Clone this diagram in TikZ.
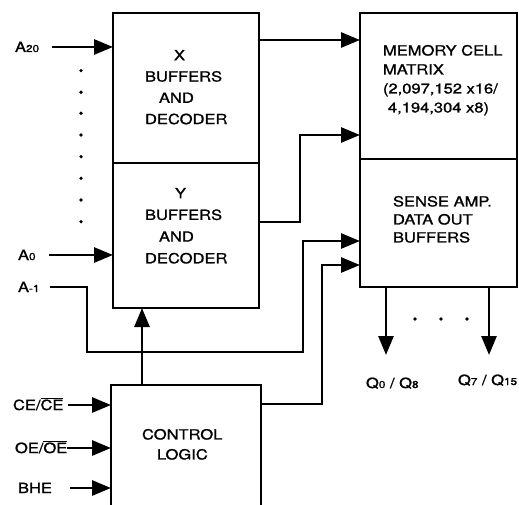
\documentclass[tikz,border=0pt]{standalone}
\usepackage{fontspec}
\setmainfont{TeX Gyre Heros}[FakeStretch=1.18,FakeBold=1.3]
\usetikzlibrary{arrows.meta}
\newcommand{\sm}[1]{{\fontsize{10}{10}\selectfont #1}}
\begin{document}
\begin{tikzpicture}[x=1pt,y=-1pt,
  line width=2.8pt,
  every node/.style={font=\fontsize{14}{21}\selectfont, inner sep=0pt, outer sep=0pt},
  box/.style={draw, rectangle, anchor=north west, line width=2.8pt},
  txt/.style={align=left, anchor=north west},
  lbl/.style={anchor=base west},
  arr/.style={line width=2.8pt, -{Triangle[length=19pt,width=15pt]}},
]
\useasboundingbox (0,0) rectangle (519,505);
% boxes
\node[box, minimum width=146pt, minimum height=150pt] (xdec) at (113,13) {};
\node[box, minimum width=146pt, minimum height=145pt] (ydec) at (113,163) {};
\node[box, minimum width=157pt, minimum height=146pt] (mem) at (360,13) {};
\node[box, minimum width=157pt, minimum height=128pt] (sense) at (360,159) {};
\node[anchor=north west, minimum width=150pt, minimum height=125pt] (ctrl) at (111,385) {};
\draw (ctrl.south west) -- (ctrl.north west) -- (ctrl.north east) -- (ctrl.south east);
% box texts
\node[txt, font=\fontsize{14}{21.3}\selectfont] (xtxt) at (145,50) {\hspace*{29pt}X\\BUFFERS\\\hspace*{14pt}AND\\DECODER};
\node[txt, font=\fontsize{14}{21.7}\selectfont] (ytxt) at (145,188) {\hspace*{30pt}Y\\BUFFERS\\\hspace*{14pt}AND\\DECODER};
\node[txt, font=\fontsize{14}{19}\selectfont] (memtxt) at (383,45) {MEMORY CELL\\MATRIX\\(2,097,152 x16/\\\hspace*{5pt}4,194,304 x8)};
\node[txt, font=\fontsize{14}{18}\selectfont] (sensetxt) at (393,196) {SENSE AMP.\\DATA OUT\\BUFFERS};
\node[txt, font=\fontsize{14}{20}\selectfont] (ctrltxt) at (142,429) {CONTROL\\\hspace*{15pt}LOGIC};
% labels
\node[lbl] (la20) at (15,52) {A\sm{20}};
\node[lbl] (la0) at (18,260) {A\sm{0}};
\node[lbl] (lam1) at (18,292) {A\sm{-1}};
\node[lbl] (lce) at (13,410) {CE/$\overline{\mbox{CE}}$};
\node[lbl] (loe) at (15,453) {OE/$\overline{\mbox{OE}}$};
\node[lbl] (lbhe) at (18,493) {BHE};
\node[lbl] (lq0) at (366,388) {Q\sm{0} / Q\sm{8}};
\node[lbl] (lq7) at (458,385) {Q\sm{7} / Q\sm{15}};
% dots
\foreach \yy in {70.7,92.3,113.3,135,156.7,178.3,200,221.7}
  \fill (81,\yy) circle (1.8pt);
\foreach \xx in {415,441,467}
  \fill (\xx,319) circle (1.8pt);
% connectors
\coordinate (a20) at (52,47);
\draw[arr] (a20) -- (a20 -| xdec.west);
\coordinate (a0) at (49,255);
\draw[arr] (a0) -- (a0 -| ydec.west);
\coordinate (am1) at (50,287);
\coordinate (am1b) at (87,352);
\coordinate (am1c) at (303,241);
\draw[arr] (am1) -| (am1b) -| (am1c) -- (am1c -| sense.west);
\coordinate (cs) at (322,404);
\coordinate (cs2) at (322,265);
\draw[arr] (cs -| ctrl.east) -- (cs) -- (cs2) -- (cs2 -| sense.west);
\coordinate (cy) at (142,350);
\draw[arr] (cy |- ctrl.north) -- (cy |- ydec.south);
\coordinate (xm) at (300,40);
\draw[arr] (xm -| xdec.east) -- (xm -| mem.west);
\coordinate (ym1) at (300,222);
\coordinate (ym2) at (300,135);
\draw[arr] (ym1 -| ydec.east) -- (ym1) -- (ym2) -- (ym2 -| mem.west);
\coordinate (q0) at (386,355);
\draw[arr] (q0 |- sense.south) -- (q0);
\coordinate (q7) at (489,355);
\draw[arr] (q7 |- sense.south) -- (q7);
\coordinate (ce) at (68,405);
\draw[arr] (ce) -- (ce -| ctrl.west);
\coordinate (oe) at (67,448);
\draw[arr] (oe) -- (oe -| ctrl.west);
\coordinate (bhe) at (70,488);
\draw[arr] (bhe) -- (bhe -| ctrl.west);
\end{tikzpicture}
\end{document}
